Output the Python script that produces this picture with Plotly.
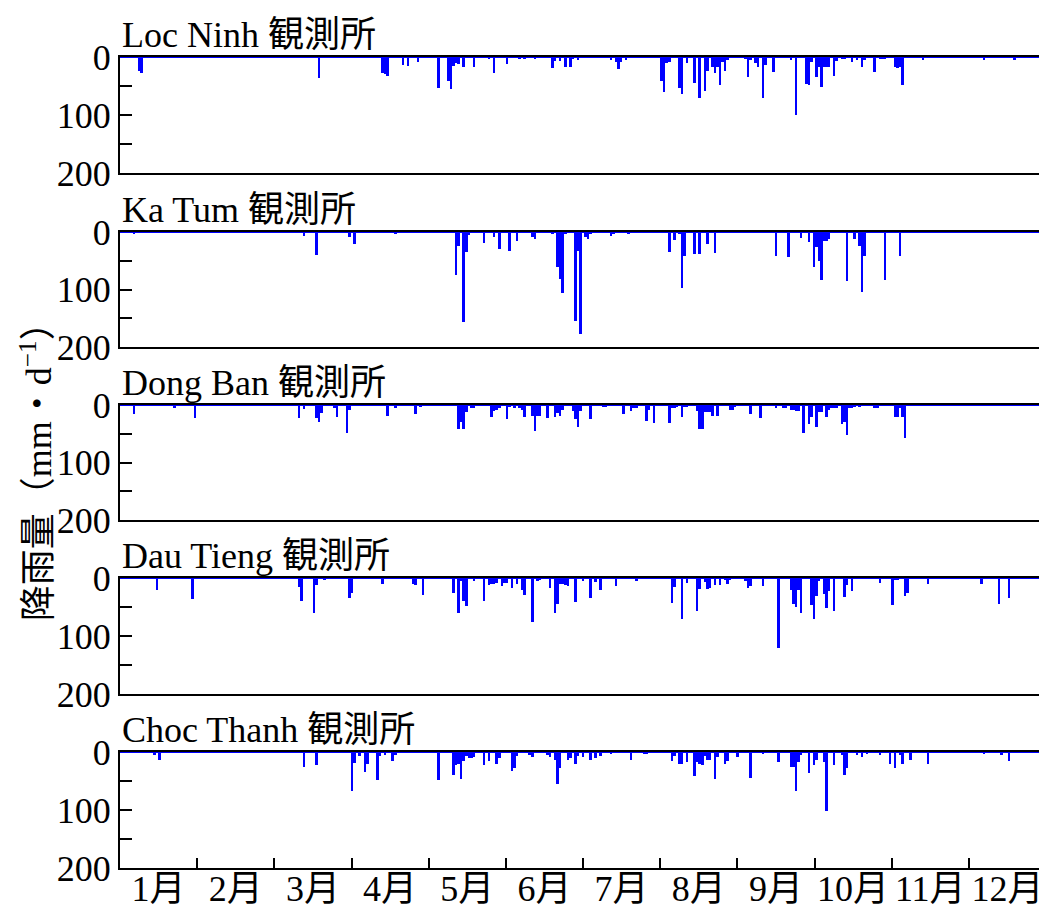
import plotly.graph_objects as go

# ---------------- data (day of year, daily rainfall mm/d) ----------------
stations = ["Loc Ninh 観測所", "Ka Tum 観測所", "Dong Ban 観測所", "Dau Tieng 観測所", "Choc Thanh 観測所"]
months = ["1月", "2月", "3月", "4月", "5月", "6月", "7月", "8月", "9月", "10月", "11月", "12月"]

ln_days = [8, 9, 79, 104, 105, 106, 112, 114, 118, 126, 130, 131, 132, 133, 134, 136, 140, 146, 148, 153, 158, 160, 164,
           171, 172, 174, 176, 178, 179, 181, 194, 196, 197, 198, 200, 214, 215, 216, 217, 221, 222, 224, 227, 229, 231,
           232, 234, 235, 236, 237, 238, 239, 240, 247, 248, 249, 251, 252, 254, 255, 258, 265, 267, 271, 272, 273, 275,
           276, 277, 278, 279, 280, 282, 283, 285, 286, 289, 291, 293, 294, 298, 300, 301, 302, 306, 307, 308, 309, 317,
           341, 353]
ln_mm = [24, 27, 37, 28, 30, 32, 14, 15, 8, 53, 42, 55, 15, 10, 12, 17, 17, 3, 28, 12, 3, 4, 3,
         19, 7, 7, 17, 17, 4, 5, 5, 8, 21, 8, 5, 42, 61, 11, 8, 54, 64, 11, 45, 71, 58,
         24, 17, 28, 17, 49, 8, 24, 5, 3, 34, 5, 10, 17, 70, 13, 25, 5, 100, 47, 49, 8, 34,
         17, 51, 17, 17, 17, 32, 7, 3, 3, 9, 5, 17, 5, 25, 4, 4, 3, 17, 19, 17, 49, 5,
         5, 5]

kt_days = [6, 73, 78, 91, 93, 109, 133, 134, 136, 137, 138, 144, 148, 150, 154, 157, 163, 164, 171, 173, 174, 175, 176,
           180, 181, 182, 184, 185, 186, 194, 195, 201, 217, 219, 221, 222, 223, 227, 229, 232, 235, 259, 264, 269, 272,
           274, 275, 276, 277, 278, 279, 280, 287, 290, 292, 293, 294, 302, 308]
kt_mm = [4, 7, 40, 9, 21, 4, 75, 25, 156, 35, 5, 19, 9, 30, 33, 16, 9, 13, 4, 61, 82, 106, 4,
         154, 33, 177, 9, 13, 3, 7, 4, 4, 35, 14, 4, 97, 42, 38, 38, 21, 37, 42, 43, 10, 17,
         61, 26, 50, 83, 16, 16, 13, 85, 13, 24, 104, 42, 83, 42]

db_days = [6, 22, 30, 71, 73, 78, 79, 80, 85, 86, 90, 91, 106, 109, 117, 119, 134, 135, 136, 137, 139, 140, 147, 148,
           149, 150, 153, 154, 156, 158, 159, 160, 163, 164, 165, 166, 169, 172, 173, 174, 175, 179, 180, 181, 182, 186,
           191, 192, 199, 202, 203, 204, 208, 209, 211, 217, 218, 219, 220, 222, 223, 224, 228, 229, 230, 231, 232, 233,
           234, 236, 241, 242, 243, 249, 253, 259, 262, 263, 265, 266, 267, 268, 270, 272, 273, 275, 276, 277, 279, 280,
           281, 282, 283, 285, 286, 287, 288, 289, 290, 292, 298, 299, 306, 307, 308, 309, 310]
db_mm = [16, 6, 22, 23, 7, 23, 30, 14, 5, 20, 48, 9, 19, 5, 16, 3, 42, 29, 42, 12, 5, 5, 20, 10,
         8, 6, 24, 3, 5, 6, 8, 20, 19, 46, 19, 19, 22, 20, 14, 19, 9, 10, 24, 39, 11, 25,
         3, 3, 15, 10, 6, 6, 27, 9, 31, 32, 5, 5, 4, 20, 3, 3, 10, 41, 41, 13, 13, 13,
         19, 19, 9, 9, 4, 15, 23, 6, 6, 6, 8, 8, 10, 10, 48, 33, 20, 39, 12, 12, 20, 9,
         6, 6, 6, 33, 30, 53, 6, 6, 4, 4, 5, 5, 20, 20, 6, 20, 57]

dt_days = [15, 29, 71, 72, 77, 78, 81, 91, 92, 104, 116, 117, 120, 132, 134, 135, 136, 137, 140, 144, 146, 147, 148,
           149, 151, 152, 153, 155, 157, 159, 160, 163, 165, 166, 170, 172, 173, 174, 175, 176, 177, 180, 183, 186, 188,
           190, 196, 204, 218, 219, 222, 224, 228, 229, 231, 232, 233, 235, 237, 239, 240, 241, 247, 248, 249, 254, 260,
           265, 266, 267, 268, 269, 273, 274, 275, 276, 278, 279, 280, 282, 286, 287, 289, 300, 305, 306, 307, 310, 311,
           319, 340, 347, 351]
dt_mm = [20, 37, 16, 39, 61, 12, 4, 34, 25, 10, 10, 12, 30, 25, 61, 5, 39, 48, 5, 39, 12, 10, 10,
         8, 14, 8, 8, 18, 10, 21, 30, 76, 5, 4, 18, 61, 44, 10, 10, 12, 13, 41, 5, 35, 7,
         21, 14, 5, 43, 16, 71, 9, 57, 19, 7, 19, 17, 12, 12, 4, 10, 4, 5, 17, 14, 14, 120,
         21, 45, 50, 21, 61, 47, 70, 31, 5, 28, 52, 22, 56, 33, 12, 23, 9, 47, 4, 4, 31, 26,
         10, 10, 45, 35]

ct_days = [14, 16, 73, 78, 92, 93, 95, 97, 98, 102, 103, 105, 108, 109, 126, 132, 133, 134, 135, 136, 137, 138, 139,
           140, 144, 146, 149, 150, 155, 156, 157, 162, 163, 169, 170, 172, 173, 174, 177, 178, 180, 181, 183, 186, 188,
           190, 194, 202, 207, 208, 218, 219, 221, 222, 224, 227, 228, 229, 230, 231, 232, 233, 235, 236, 239, 240, 244,
           249, 254, 260, 265, 266, 267, 268, 269, 272, 274, 275, 278, 279, 282, 285, 286, 287, 291, 293, 295, 300, 304,
           306, 308, 309, 312, 319, 341, 348, 351]
ct_mm = [6, 13, 25, 23, 68, 19, 7, 35, 20, 48, 7, 6, 16, 5, 49, 39, 23, 20, 46, 16, 7, 11, 11,
         9, 23, 16, 21, 11, 32, 28, 7, 5, 9, 5, 9, 14, 56, 28, 14, 11, 20, 7, 9, 14, 11,
         7, 4, 13, 4, 4, 16, 7, 21, 20, 18, 41, 18, 21, 23, 7, 14, 14, 46, 9, 21, 16, 9,
         44, 4, 18, 25, 25, 67, 18, 6, 36, 23, 14, 18, 101, 23, 5, 39, 28, 5, 8, 3, 5, 21,
         28, 6, 20, 13, 20, 3, 6, 16]

series = [(ln_days, ln_mm), (kt_days, kt_mm), (db_days, db_mm), (dt_days, dt_mm), (ct_days, ct_mm)]

# ---------------- layout geometry (page has an 8px body margin) ----------------
W, H = 1039, 896
L, R, T, B = 112, 1, 49, 36
domains = [(0.857, 1.0), (0.6424, 0.7842), (0.4291, 0.5709), (0.2145, 0.3576), (0.0, 0.1430)]

serif = "Liberation Serif, Noto Sans CJK JP, serif"
fs = 36

fig = go.Figure()
mlen = 365 / 12
month_centers = [0.5 + (k + 0.5) * mlen for k in range(12)]
month_bounds = [0.5 + k * mlen for k in range(1, 12)]

for i, ((days, mm), name) in enumerate(zip(series, stations)):
    n = "" if i == 0 else str(i + 1)
    fig.add_trace(go.Bar(x=days, y=mm, width=1.0, marker=dict(color="#0000FF", line=dict(width=0)),
                         xaxis="x" + n, yaxis="y" + n, showlegend=False))
    last = (i == 4)
    xa = dict(domain=[0, 1], range=[0.5, 365.5], anchor="y" + n, showline=True, linecolor="black", linewidth=2,
              mirror=True, showgrid=False, zeroline=False,
              tickmode="array", tickvals=month_centers, ticktext=months if last else [""] * 12,
              ticks="", showticklabels=last, tickfont=dict(family=serif, size=fs, color="black"))
    if last:
        xa["ticklabelstandoff"] = -12
        xa["minor"] = dict(tickmode="array", tickvals=month_bounds, ticks="inside", ticklen=10, tickwidth=2,
                           tickcolor="black", showgrid=False)
    ya = dict(domain=list(domains[i]), range=[200, 0], anchor="x" + n, showline=True, linecolor="black",
              linewidth=2, mirror=True, showgrid=False, zeroline=False,
              tickmode="array", tickvals=[0, 50, 100, 150, 200], ticktext=["0", "", "100", "", "200"],
              ticks="inside", ticklen=12, tickwidth=2, tickcolor="black",
              tickfont=dict(family=serif, size=fs, color="black"))
    fig.layout["xaxis" + n] = xa
    fig.layout["yaxis" + n] = ya
    fig.add_shape(type="line", xref="x" + n + " domain", yref="y" + n, x0=0, x1=1, y0=0, y1=0,
                  line=dict(color="#0000FF", width=2), layer="above")
    fig.add_annotation(text=name, xref="paper", yref="y" + n + " domain", x=0, y=1, xanchor="left",
                       yanchor="bottom", yshift=0, showarrow=False,
                       font=dict(family=serif, size=fs, color="black"))

fig.add_annotation(text="降雨量（mm・d<sup>−1</sup>）", xref="paper", yref="paper", x=-0.090, y=0.50,
                   xanchor="center", yanchor="middle", textangle=-90, showarrow=False,
                   font=dict(family=serif, size=fs, color="black"))

fig.update_layout(width=W, height=H, margin=dict(l=L, r=R, t=T, b=B, autoexpand=False),
                  paper_bgcolor="white", plot_bgcolor="white", bargap=0, barmode="overlay")

fig.write_html("out.html")
